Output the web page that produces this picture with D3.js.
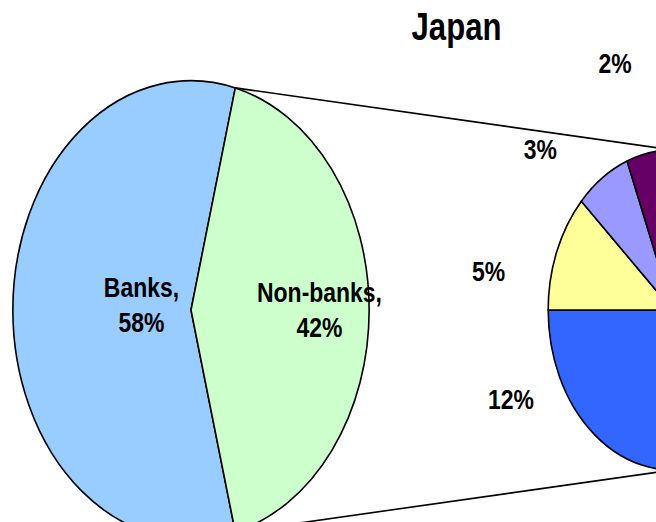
<!DOCTYPE html>
<html>
<head>
<meta charset="utf-8">
<script src="https://cdn.jsdelivr.net/npm/d3@7"></script>
<style>
  html, body { margin: 0; padding: 0; background: #fff; }
  svg { display: block; }
  text { font-family: "Liberation Sans", Arial, sans-serif; font-weight: bold; fill: #000; }
</style>
</head>
<body>
<script>
// Japan: lending split between banks and non-banks, with the non-bank share broken down
const title = "Japan";

const sectors = ["Banks", "Non-banks"];
const sectorShares = [58, 42];
const sectorColors = ["#99CCFF", "#CCFFCC"];

// Non-bank share split into its parts (percent of the total)
const detailShares = [12, 5, 3, 2, 20];
const detailColors = ["#3366FF", "#FFFF99", "#9999FF", "#660066", "#FF8080"];

// ---- layout ----
const W = 656, H = 522;
const squash = 0.777;      // horizontal compression of the pies
const textSquash = 0.82;   // narrow lettering
const mainPos = { cx: 191, cy: 310, r: 229.3 };
const detailPos = { cx: 672.5, cy: 310, r: 160 };
// label anchors relative to each pie centre (screen px)
const mainLabelOffsets = [[-49.5, -12.7], [128.5, -8.3]];
const detailLabelOffsets = [[-161.5, 99.3], [-183.8, -29.3], [-132.2, -150.7], [-57.5, -237.3], null];
const lineGap = 35;

const svg = d3.select("body").append("svg")
  .attr("width", W).attr("height", H)
  .attr("viewBox", `0 0 ${W} ${H}`);

// Main pie: the non-bank slice is centred on 3 o'clock, facing the detail pie
const mainTotal = d3.sum(sectorShares);
const mainStart = Math.PI / 2 + Math.PI * sectorShares[1] / mainTotal;
const mainArcs = d3.pie().sort(null).value(d => d)
  .startAngle(mainStart).endAngle(mainStart + 2 * Math.PI)(sectorShares);

// Detail pie: the first part ends at 9 o'clock and the rest follow clockwise
const detailTotal = d3.sum(detailShares);
const detailStart = 1.5 * Math.PI - 2 * Math.PI * detailShares[0] / detailTotal;
const detailArcs = d3.pie().sort(null).value(d => d)
  .startAngle(detailStart).endAngle(detailStart + 2 * Math.PI)(detailShares);

const onEdge = (pos, a) => [pos.cx + squash * pos.r * Math.sin(a), pos.cy - pos.r * Math.cos(a)];

// connector lines from the non-bank slice edges to the top and bottom of the detail pie
const topFrom = onEdge(mainPos, mainArcs[1].startAngle);
const botFrom = onEdge(mainPos, mainArcs[1].endAngle);
const topTo = onEdge(detailPos, 0);
const botTo = onEdge(detailPos, Math.PI);
svg.append("g").selectAll("line")
  .data([[topFrom, topTo], [botFrom, botTo]])
  .join("line")
  .attr("x1", d => d[0][0]).attr("y1", d => d[0][1])
  .attr("x2", d => d[1][0]).attr("y2", d => d[1][1])
  .attr("stroke", "#000").attr("stroke-width", 1.6);

function drawPie(pos, arcs, colors) {
  const arc = d3.arc().innerRadius(0).outerRadius(pos.r);
  svg.append("g")
    .attr("transform", `translate(${pos.cx},${pos.cy}) scale(${squash},1)`)
    .selectAll("path")
    .data(arcs)
    .join("path")
    .attr("d", arc)
    .attr("fill", (d, i) => colors[i])
    .attr("stroke", "#000")
    .attr("stroke-width", 1.6)
    .attr("stroke-linejoin", "round")
    .attr("vector-effect", "non-scaling-stroke");
}
drawPie(mainPos, mainArcs, sectorColors);
drawPie(detailPos, detailArcs, detailColors);

function narrowText(x, y, lines, size) {
  const t = svg.append("text")
    .attr("transform", `translate(${x},${y}) scale(${textSquash},1)`)
    .attr("text-anchor", "middle")
    .attr("font-size", size);
  lines.forEach((s, i) => t.append("tspan").attr("x", 0).attr("y", i * lineGap).text(s));
}

// title
narrowText(456.5, 39.5, [title], 38);

// main pie labels
mainArcs.forEach((d, i) => {
  const [dx, dy] = mainLabelOffsets[i];
  narrowText(mainPos.cx + dx, mainPos.cy + dy, [sectors[i] + ",", sectorShares[i] + "%"], 28);
});

// detail pie labels
detailArcs.forEach((d, i) => {
  const off = detailLabelOffsets[i];
  if (!off) return;
  narrowText(detailPos.cx + off[0], detailPos.cy + off[1], [detailShares[i] + "%"], 28);
});
</script>
</body>
</html>
